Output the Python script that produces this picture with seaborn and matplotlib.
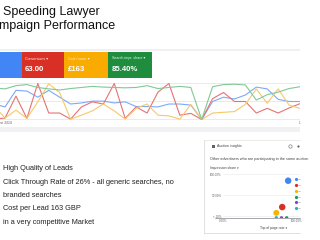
import numpy as np
import pandas as pd
import seaborn as sns
import matplotlib.pyplot as plt
from matplotlib.patches import Rectangle
from matplotlib.lines import Line2D

sns.set_theme(style="white")
plt.rcParams['font.family'] = ['Liberation Sans', 'DejaVu Sans']

W, H = 320, 240

# daily series (share of chart height, 0-100)
days = list(range(29))
clicks = [43, 35, 81, 79, 62, 81, 62, 43, 46, 51, 51, 46, 49, 36, 36, 35, 43, 43, 40, 0,
          50, 62, 57, 68, 90, 85, 56, 50, 50]
conversions = [1, 4, 65, 3, 100, 18, 18, 1, 35, 49, 43, 100, 3, 35, 18, 76, 100, 12, 17, 0,
               58, 75, 50, 50, 18, 31, 18, 32, 44]
cost_per_conv = [38, 4, 26, 3, 49, 99, 75, 1, 12, 24, 43, 24, 1, 31, 43, 12, 10, 1, 42, 0,
                 18, 20, 22, 42, 85, 45, 85, 40, 31]
impr_share = [88, 85, 94, 97, 89, 85, 82, 86, 89, 92, 90, 89, 88, 89, 94, 86, 89, 92, 89, 0,
              91, 97, 98, 96, 54, 69, 76, 86, 91]

card_labels = ["Clicks", "Conversions \u25be", "Cost / conv. \u25be", "Search impr. share \u25be"]
card_values = ["", "63.00", "\u00a3163", "85.40%"]

# auction insights
advertisers = ["You", "Comp A", "Comp B", "Comp C", "Comp D", "Comp E"]
top_of_page = [88, 80, 72, 86, 79, 72]
share_pct = [84, 27, 16, 6.5, 6.5, 6.5]
dot_size = [22, 22, 18, 6, 6, 6]

bullets = ["High Quality of Leads",
           "Click Through Rate of 26% - all generic searches, no",
           "branded searches",
           "Cost per Lead 163 GBP",
           "in a very competitive Market"]

card_colors = ['#4285f4', '#d93025', '#f9ab00', '#1e8e3e']
line_colors = ['#7baaf7', '#e57373', '#f7c86a', '#81c995']
adv_colors = ['#4285f4', '#d93025', '#f4b400', '#0f9d58', '#9334e6', '#12b5cb']


def px_axes(x0, y0, x1, y1):
    return fig.add_axes([x0 / W, 1 - y1 / H, (x1 - x0) / W, (y1 - y0) / H])


fig = plt.figure(figsize=(3.2, 2.4), dpi=100)
bg = fig.add_axes([0, 0, 1, 1])
bg.set_xlim(0, W)
bg.set_ylim(H, 0)
bg.axis('off')

# title (cropped at the left edge, as on the slide)
bg.text(51.5, 12, "Speeding Lawyer", ha='center', va='center', fontsize=9, color='#111111')
bg.text(49, 26.5, "Campaign Performance", ha='center', va='center', fontsize=9, color='#111111')

# dashboard strips
bg.add_patch(Rectangle((0, 48.5), 300, 2.5, fc='#f0f0f4', ec='none'))
bg.add_patch(Rectangle((0, 127), 300, 5, fc='#f1f1f4', ec='none'))

card_x = [0, 21.7, 64.3, 108.3, 151.7]
for i in range(4):
    bg.add_patch(Rectangle((card_x[i], 51.5), card_x[i + 1] - card_x[i], 26.5,
                           fc=card_colors[i], ec='none'))
    if card_values[i]:
        bg.text(card_x[i] + 3.5, 58.5, card_labels[i], fontsize=2.6, color='white',
                va='center', alpha=0.9)
        bg.text(card_x[i] + 3.5, 69.5, card_values[i], fontsize=5.6, color='white',
                va='center', fontweight='bold')

bg.text(12, 123, "June 2024", ha='right', va='center', fontsize=2.4, color='#5f6368')
bg.text(300, 122.5, "1", ha='center', va='center', fontsize=2.2, color='#5f6368')

# line chart
lines = pd.DataFrame({
    'day': days * 4,
    'value': clicks + conversions + cost_per_conv + impr_share,
    'metric': (['Clicks'] * 29 + ['Conversions'] * 29 + ['Cost / conv.'] * 29
               + ['Search impr. share'] * 29),
})
ax = px_axes(0, 79, 300, 120)
ax.patch.set_alpha(0)
sns.lineplot(data=lines, x='day', y='value', hue='metric', palette=line_colors,
             linewidth=0.8, legend=False, ax=ax)
ax.set_xlim(0.54, 28)
ax.set_ylim(-1.4, 112.5)
ax.set_yticks([0, 50, 100])
ax.set_xticks([])
ax.yaxis.grid(True, color='#e6e6e6', lw=0.6)
ax.tick_params(left=False, labelleft=False)
ax.set_xlabel('')
ax.set_ylabel('')
ax.set_axisbelow(True)
sns.despine(ax=ax, left=True, bottom=True)

# bullet text
for k, line in enumerate(bullets):
    bg.text(3, 169 + 13.3 * k, line, fontsize=5.35, color='#222222', va='center')

# auction insights panel
panel = Rectangle((204, 140), 96, 93, fc='white', ec='none')
bg.add_patch(panel)
bg.plot([204, 300], [140, 140], color='#e3e3e3', lw=0.5)
bg.plot([204, 204], [140, 233], color='#dcdcdc', lw=0.6)
bg.plot([204, 300], [233, 233], color='#dcdcdc', lw=0.6)
bg.add_patch(Rectangle((212, 144.5), 3, 3, fc='#5f6368', ec='none'))
bg.add_line(Line2D([289.5], [146], marker='o', ms=2.4, mfc='none', mec='#5f6368', mew=0.4))
bg.add_line(Line2D([297.5], [146], marker='o', ms=1.6, mfc='#5f6368', mec='none'))
clip = Rectangle((204, 140), 96, 93, transform=bg.transData)
for x, y, s, fs in [(217, 146, "Auction insights", 2.5),
                    (210, 159, "Other advertisers who are participating in the same auction", 2.7),
                    (210, 168, "Impression share \u25be", 2.4)]:
    t = bg.text(x, y, s, fontsize=fs, color='#3c4043', va='center')
    t.set_clip_path(clip)

bg.text(273.5, 228, "Top of page rate \u25be", fontsize=2.4, color='#3c4043',
        ha='center', va='center')
for k, c in enumerate(adv_colors):
    bg.add_line(Line2D([295.7], [179 + 5.85 * k], marker='o', ms=2.3, mfc=c, mec='none'))
    bg.add_line(Line2D([297.8, 300], [179 + 5.85 * k] * 2, color='#9aa0a6', lw=0.4))

sc = pd.DataFrame({'advertiser': advertisers, 'top': top_of_page,
                   'share': share_pct, 'size': dot_size})


def fwd(v):
    v = np.asarray(v, float)
    return np.where(v <= 50, (v - 10) / 40, 1 + (v - 50) / 50)


def inv(t):
    t = np.asarray(t, float)
    return np.where(t <= 1, 10 + 40 * t, 50 + 50 * (t - 1))


ax2 = px_axes(223, 172, 300, 218)
ax2.patch.set_alpha(0)
ax2.set_yscale('function', functions=(fwd, inv))
sns.scatterplot(data=sc, x='top', y='share', hue='advertiser', palette=adv_colors,
                size='size', sizes={22: 22, 18: 18, 6: 6}, linewidth=0,
                legend=False, ax=ax2, zorder=3)
ax2.set_xlim(0, 104)
ax2.set_ylim(6.2, 104.8)
ax2.set_yticks([10, 50, 100], ['< 10%', '50.00%', '100.00%'])
ax2.set_xticks([0, 100], ['0.00%', '100.00%'])
ax2.tick_params(length=0, pad=0.8, labelsize=2.2, labelcolor='#5f6368')
ax2.yaxis.grid(True, color='#e8e8e8', lw=0.4)
ax2.set_xlabel('')
ax2.set_ylabel('')
ax2.axhline(6.2, xmin=-0.104, xmax=1, color='#80868b', lw=0.5, clip_on=False)
sns.despine(ax=ax2, left=True, bottom=True)

fig.savefig('out.png', dpi=100)
